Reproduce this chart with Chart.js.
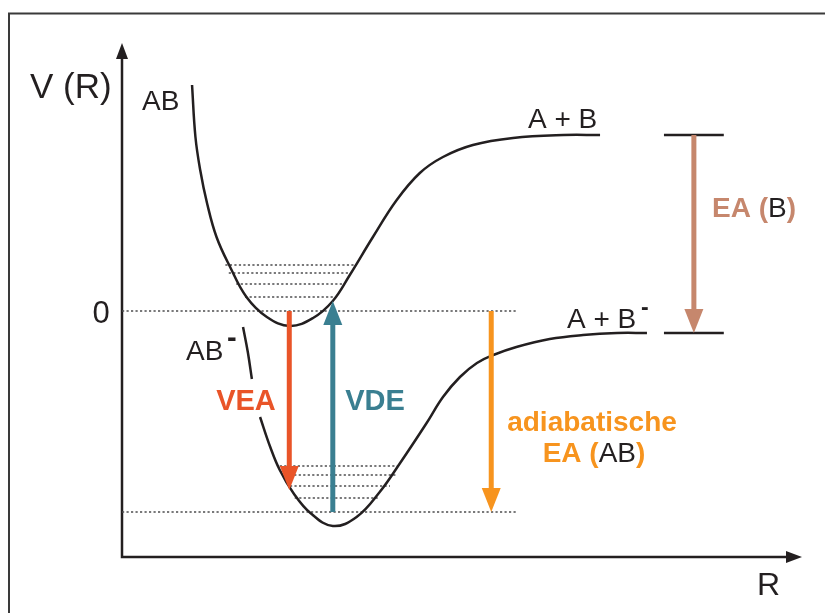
<!DOCTYPE html>
<html>
<head>
<meta charset="utf-8">
<script src="https://cdn.jsdelivr.net/npm/chart.js@4.4.0/dist/chart.umd.min.js"></script>
<style>
  html, body { margin: 0; padding: 0; background: #fff; }
  canvas { display: block; }
</style>
</head>
<body>
<canvas id="graficoPotencial" width="825" height="613"></canvas>
<script>
// Potentialkurve AB (neutral): R und V(R)
const rAB = [1.03, 1.08, 1.15, 1.25, 1.39, 1.59, 1.83, 2.13, 2.47, 2.81, 3.10, 3.35, 3.69, 4.04, 4.38, 4.72, 5.16, 5.75, 6.49, 7.03];
const vAB = [2.26, 1.74, 1.41, 1.08, 0.74, 0.44, 0.14, -0.06, -0.15, -0.07, 0.10, 0.36, 0.74, 1.11, 1.38, 1.54, 1.66, 1.73, 1.76, 1.76];

// Potentialkurve AB- (Anion), null = Lücke hinter dem Label
const rABm = [1.78, 1.85, 1.91, 1.97, 2.03, 2.18, 2.32, 2.52, 2.77, 3.10, 3.45, 3.79, 4.09, 4.48, 4.72, 4.97, 5.22, 5.46, 5.80, 6.29, 6.78, 7.28, 7.72];
const vABm = [-0.16, -0.41, -0.68, null, -1.06, -1.36, -1.59, -1.82, -2.02, -2.15, -2.06, -1.81, -1.52, -1.12, -0.86, -0.66, -0.52, -0.44, -0.36, -0.28, -0.24, -0.22, -0.22];

// Schwingungsniveaus
const nivAB_V = [0.46, 0.38, 0.27, 0.14];
const nivAB_R1 = [1.52, 1.57, 1.68, 1.81];
const nivAB_R2 = [3.44, 3.35, 3.25, 3.10];
const nivABm_V = [-1.55, -1.64, -1.75, -1.87];
const nivABm_R1 = [2.32, 2.40, 2.47, 2.54];
const nivABm_R2 = [4.09, 4.04, 3.94, 3.76];

// gepunktete Referenzlinien (0 und Nullpunkt AB-)
const refV = [0, -2.01];
const refR = [0, 5.82];

// Asymptoten A + B / A + B- und Balken für EA(B)
const asymV = [1.76, -0.22];
const eaBalkenR = [7.97, 8.85];

// Pfeile
const pfeilR = [2.46, 3.10, 5.43, 8.41];
const pfeilVon = [0, -2.01, 0, 1.76];
const pfeilBis = [-1.79, 0.10, -2.01, -0.22];
const pfeilFarbe = ["#e95428", "#3a7f91", "#f7941e", "#c6876d"];

const schwarz = "#231f20";
const punktLinie = "#4d4d4f";
const FONT = '"Liberation Sans", Arial, sans-serif';

const linie = (r1, r2, v) => [{ x: r1, y: v }, { x: r2, y: v }];
const gepunktet = { borderColor: punktLinie, borderWidth: 1.5, borderDash: [2.2, 2.3] };

const datasets = [
    {
        data: rAB.map((r, i) => ({ x: r, y: vAB[i] })),
        borderColor: schwarz, borderWidth: 2.5, tension: 0.4
    },
    {
        data: rABm.map((r, i) => ({ x: r, y: vABm[i] })),
        borderColor: schwarz, borderWidth: 2.5, tension: 0.4, spanGaps: false
    }
];
nivAB_V.forEach((v, i) => datasets.push({ data: linie(nivAB_R1[i], nivAB_R2[i], v), ...gepunktet }));
nivABm_V.forEach((v, i) => datasets.push({ data: linie(nivABm_R1[i], nivABm_R2[i], v), ...gepunktet }));
refV.forEach(v => datasets.push({ data: linie(refR[0], refR[1], v), ...gepunktet }));
asymV.forEach(v => datasets.push({ data: linie(eaBalkenR[0], eaBalkenR[1], v), borderColor: schwarz, borderWidth: 2.5 }));

function pfeil(ctx, x, y1, y2, farbe) {
    const dir = y2 > y1 ? 1 : -1;
    const L = 24, W = 19;
    ctx.strokeStyle = farbe;
    ctx.fillStyle = farbe;
    ctx.lineWidth = 5;
    ctx.lineCap = "butt";
    ctx.beginPath();
    ctx.moveTo(x, y1);
    ctx.lineTo(x, y2 - dir * (L - 2));
    ctx.stroke();
    ctx.beginPath();
    ctx.moveTo(x, y2);
    ctx.lineTo(x - W / 2, y2 - dir * L);
    ctx.lineTo(x + W / 2, y2 - dir * L);
    ctx.closePath();
    ctx.fill();
}

// Text aus mehreren Teilen [text, font, farbe]
function textMix(ctx, teile, x, y, align) {
    let breite = 0;
    teile.forEach(t => { ctx.font = t[1]; breite += ctx.measureText(t[0]).width; });
    let px = align === "center" ? x - breite / 2 : x;
    ctx.textAlign = "left";
    ctx.textBaseline = "alphabetic";
    teile.forEach(t => {
        ctx.font = t[1];
        ctx.fillStyle = t[2];
        ctx.fillText(t[0], px, y);
        px += ctx.measureText(t[0]).width;
    });
}

const extras = {
    id: "extras",
    beforeDatasetsDraw(chart) {
        const { ctx, chartArea: a } = chart;
        ctx.save();
        // Rahmen
        ctx.strokeStyle = "#3a3a3a";
        ctx.lineWidth = 2;
        ctx.beginPath();
        ctx.moveTo(9, 613);
        ctx.lineTo(9, 13.5);
        ctx.lineTo(825, 13.5);
        ctx.stroke();
        // Achsen
        ctx.strokeStyle = schwarz;
        ctx.fillStyle = schwarz;
        ctx.lineWidth = 2.5;
        ctx.beginPath();
        ctx.moveTo(a.left, a.bottom + 1.25);
        ctx.lineTo(a.left, a.top + 12);
        ctx.moveTo(a.left - 1.25, a.bottom);
        ctx.lineTo(a.right - 12, a.bottom);
        ctx.stroke();
        ctx.beginPath();
        ctx.moveTo(a.left, a.top);
        ctx.lineTo(a.left - 6, a.top + 16);
        ctx.lineTo(a.left + 6, a.top + 16);
        ctx.closePath();
        ctx.moveTo(a.right, a.bottom);
        ctx.lineTo(a.right - 16, a.bottom - 6);
        ctx.lineTo(a.right - 16, a.bottom + 6);
        ctx.closePath();
        ctx.fill();
        ctx.restore();
    },
    afterDatasetsDraw(chart) {
        const { ctx, scales: { x, y } } = chart;
        ctx.save();
        pfeilR.forEach((r, i) => {
            pfeil(ctx, x.getPixelForValue(r), y.getPixelForValue(pfeilVon[i]), y.getPixelForValue(pfeilBis[i]), pfeilFarbe[i]);
        });

        const n = s => s + "px " + FONT;
        const b = s => "bold " + s + "px " + FONT;
        textMix(ctx, [["V (R)", n(35), schwarz]], 30, 98, "left");
        textMix(ctx, [["AB", n(28), schwarz]], 142, 110, "left");
        textMix(ctx, [["0", n(31), schwarz]], 101, 323, "center");
        textMix(ctx, [["AB", n(28), schwarz]], 186, 360, "left");
        textMix(ctx, [["-", b(29), schwarz]], 227, 347, "left");
        textMix(ctx, [["A + B", n(28), schwarz]], 528, 128, "left");
        textMix(ctx, [["A + B", n(28), schwarz]], 567, 328, "left");
        textMix(ctx, [["-", b(23), schwarz]], 641, 315, "left");
        textMix(ctx, [["R", n(32), schwarz]], 757, 595, "left");
        textMix(ctx, [["VEA", b(29), pfeilFarbe[0]]], 246, 410, "center");
        textMix(ctx, [["VDE", b(29), pfeilFarbe[1]]], 375, 410, "center");
        textMix(ctx, [["adiabatische", b(28), pfeilFarbe[2]]], 592, 431, "center");
        textMix(ctx, [["EA (", b(28), pfeilFarbe[2]], ["AB", n(28), schwarz], [")", b(28), pfeilFarbe[2]]], 594, 462, "center");
        textMix(ctx, [["EA (", b(28), pfeilFarbe[3]], ["B", n(28), schwarz], [")", b(28), pfeilFarbe[3]]], 712, 217, "left");
        ctx.restore();
    }
};

new Chart(document.getElementById("graficoPotencial").getContext("2d"), {
    type: "line",
    data: { datasets: datasets },
    options: {
        responsive: false,
        animation: false,
        devicePixelRatio: 1,
        layout: { padding: { left: 122, right: 23, top: 43, bottom: 56 } },
        elements: { point: { radius: 0, hoverRadius: 0 }, line: { fill: false } },
        plugins: { legend: { display: false }, tooltip: { enabled: false }, title: { display: false } },
        scales: {
            x: { type: "linear", min: 0, max: 10, display: false },
            y: { type: "linear", min: -2.46, max: 2.68, display: false }
        },
        clip: false
    },
    plugins: [extras]
});
</script>
</body>
</html>
